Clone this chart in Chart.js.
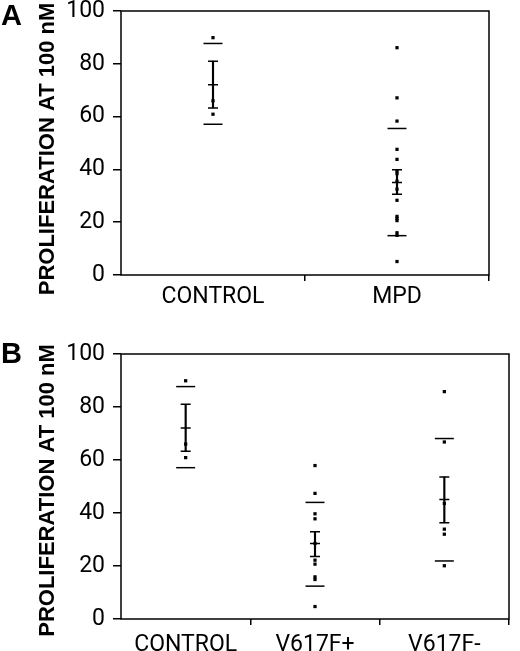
<!DOCTYPE html>
<html>
<head>
<meta charset="utf-8">
<title>Proliferation at 100 nM</title>
<script src="https://cdn.jsdelivr.net/npm/chart.js@4.4.1/dist/chart.umd.min.js"></script>
<style>
  html, body { margin: 0; padding: 0; background: #fff; }
  #wrap { position: relative; width: 520px; height: 651px; overflow: hidden; }
  canvas { position: absolute; left: 0; }
  #chartA { top: 0; }
  #chartB { top: 330px; }
  .panel { position: absolute; left: 1px; font: bold 29px "Liberation Sans", Arial, sans-serif; color: #000; line-height: 1; }
</style>
</head>
<body>
<div id="wrap">
  <canvas id="chartA" width="520" height="325"></canvas>
  <canvas id="chartB" width="520" height="321"></canvas>
  <div class="panel" style="top:1px">A</div>
  <div class="panel" style="top:339px">B</div>
</div>
<script>
// ── Datos ─────────────────────────────────────────────────────
const catsA = ['CONTROL', 'MPD'];
const catsB = ['CONTROL', 'V617F+', 'V617F-'];

const controlPts = [89.9, 66.0, 60.9];
const mpdPts     = [86.1, 67.1, 58.3, 47.6, 43.8, 39.5, 38.4, 35.5, 32.5, 28.3, 22.2, 21.4, 20.6, 16.0, 15.0, 5.1];
const posPts     = [57.9, 47.4, 39.7, 37.8, 28.5, 22.2, 20.7, 15.9, 14.9, 4.7];
const negPts     = [85.8, 66.8, 43.6, 33.9, 32.0, 20.1];

const meanA    = [72.1, 35.0];
const semLowA  = [63.3, 30.6];
const semHighA = [81.0, 39.9];
const sdLowA   = [57.1, 14.9];
const sdHighA  = [87.7, 55.5];

const meanB    = [72.1, 28.5, 45.1];
const semLowB  = [63.3, 23.6, 36.3];
const semHighB = [81.0, 32.9, 53.6];
const sdLowB   = [57.1, 12.4, 21.9];
const sdHighB  = [87.7, 44.0, 68.1];

const yTicks = [0, 20, 40, 60, 80, 100];
const yTitle = 'PROLIFERATION AT 100 nM';

// ── Helpers ───────────────────────────────────────────────────
const pts = (cats, values) => values.map((v, i) => ({ x: cats[i], y: v }));
const groupPts = (cat, values) => values.map(v => ({ x: cat, y: v }));

const markDs = (data, style, radius) => ({
  type: 'line',
  data,
  showLine: false,
  pointStyle: style,
  pointRadius: radius,
  pointBorderWidth: 1.5,
  pointBorderColor: '#000',
  pointBackgroundColor: '#000',
});

// marco completo alrededor del área del gráfico
const boxPlugin = {
  id: 'box',
  afterDraw(chart) {
    const { ctx, chartArea: a } = chart;
    ctx.save();
    ctx.strokeStyle = '#000';
    ctx.lineWidth = 1.5;
    ctx.strokeRect(a.left, a.top, a.right - a.left, a.bottom - a.top);
    ctx.restore();
  },
};

// título vertical del eje Y (un poco desplazado respecto al centro del área)
const yTitlePlugin = {
  id: 'yTitle',
  afterDraw(chart, args, opts) {
    const { ctx, chartArea: a } = chart;
    ctx.save();
    ctx.translate(opts.x, (a.top + a.bottom) / 2 + opts.dy);
    ctx.rotate(-Math.PI / 2);
    ctx.font = "bold 22px 'Liberation Sans', Arial, sans-serif";
    ctx.fillStyle = '#000';
    ctx.textAlign = 'center';
    ctx.textBaseline = 'middle';
    ctx.fillText(opts.text, 0, 0);
    ctx.restore();
  },
};

const tickFont = { family: "Roboto, 'Open Sans', sans-serif", size: 23 };

function makeChart(id, cats, groups, mean, semLow, semHigh, sdLow, sdHigh, lay) {
  const dotData = groups.flatMap((vals, i) => groupPts(cats[i], vals));
  const nCats = cats.length;

  return new Chart(document.getElementById(id), {
    type: 'bar',
    data: {
      labels: cats,
      datasets: [
        {
          data: cats.map((c, i) => [semLow[i], semHigh[i]]),
          backgroundColor: '#000',
          borderWidth: 0,
          barThickness: 1.5,
        },
        markDs(pts(cats, semLow), 'line', 5),
        markDs(pts(cats, semHigh), 'line', 5),
        markDs(pts(cats, mean), 'line', 5),
        markDs(pts(cats, sdLow), 'line', 9.5),
        markDs(pts(cats, sdHigh), 'line', 9.5),
        { ...markDs(dotData, 'rect', 2.3), pointBorderWidth: 0 },
      ],
    },
    plugins: [boxPlugin, yTitlePlugin],
    options: {
      responsive: false,
      animation: false,
      events: [],
      layout: { padding: { top: lay.top, right: lay.right, left: 0, bottom: 0 } },
      plugins: {
        legend: { display: false },
        tooltip: { enabled: false },
        yTitle: { text: yTitle, x: 48, dy: lay.titleDy },
      },
      scales: {
        x: {
          offset: true,
          grid: {
            offset: true,
            drawOnChartArea: false,
            tickLength: 6,
            lineWidth: 1.5,
            color: c => (c.index === 0 || c.index >= nCats) ? 'rgba(0,0,0,0)' : '#000',
          },
          border: { display: false },
          ticks: {
            color: '#000',
            autoSkip: false,
            maxRotation: 0,
            padding: lay.xPad,
            font: tickFont,
          },
          afterFit: s => { s.height = lay.xHeight; s.paddingLeft = 0; s.paddingRight = 0; },
        },
        y: {
          min: 0,
          max: 100,
          afterBuildTicks: s => { s.ticks = yTicks.map(v => ({ value: v })); },
          grid: { drawOnChartArea: false, tickLength: 8, lineWidth: 1.5, color: '#000' },
          border: { display: false },
          ticks: {
            color: '#000',
            padding: 8,
            font: tickFont,
          },
          afterFit: s => { s.width = 121; s.paddingTop = 0; s.paddingBottom = 0; },
        },
      },
    },
  });
}

makeChart('chartA', catsA, [controlPts, mpdPts], meanA, semLowA, semHighA, sdLowA, sdHighA,
  { top: 10, right: 31, xHeight: 50, xPad: 2, titleDy: 6 });
makeChart('chartB', catsB, [controlPts, posPts, negPts], meanB, semLowB, semHighB, sdLowB, sdHighB,
  { top: 24, right: 2, xHeight: 32, xPad: 6, titleDy: 4 });
</script>
</body>
</html>
